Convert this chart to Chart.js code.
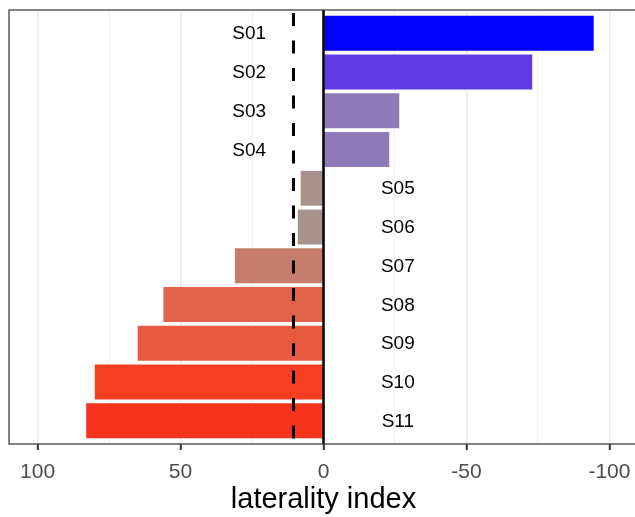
<!DOCTYPE html>
<html lang="en">
<head>
    <meta charset="UTF-8">
    <title>Laterality index</title>
    <script src="https://cdn.jsdelivr.net/npm/chart.js"></script>
    <style>
        html, body { margin: 0; padding: 0; background: #fff; overflow: hidden; }
        #chart-container { width: 645px; height: 517px; }
    </style>
</head>
<body>
    <div id="chart-container"><canvas id="grafico"></canvas></div>

    <script>
        const subjects = ['S01', 'S02', 'S03', 'S04', 'S05', 'S06', 'S07', 'S08', 'S09', 'S10', 'S11'];
        const lateralityIndex = [-94.5, -73, -26.5, -23, 8, 9, 31, 56, 65, 80, 83];
        const barColors = ['#0000FF', '#5E3AE6', '#8E7AB6', '#8E7AB6', '#A8928C', '#A8928C',
                           '#C77D6B', '#E0634A', '#E85A40', '#F53E23', '#F7331E'];
        const xTicks = [100, 75, 50, 25, 0, -25, -50, -75, -100];
        const meanIndex = 10.5;   // dashed line
        const labelOffset = 26;   // where the subject names sit

        const fontFamily = '"Liberation Sans", Arial, sans-serif';
        const isMajor = v => v % 50 === 0;

        // zero line, mean line, subject names and panel border
        const extras = {
            id: 'extras',
            afterDatasetsDraw(chart) {
                const { ctx, chartArea: a, scales: { x, y } } = chart;
                ctx.save();

                const x0 = x.getPixelForValue(0);
                ctx.strokeStyle = '#000';
                ctx.lineWidth = 2.5;
                ctx.beginPath();
                ctx.moveTo(x0, a.top);
                ctx.lineTo(x0, a.bottom);
                ctx.stroke();

                const xm = x.getPixelForValue(meanIndex);
                ctx.lineWidth = 3;
                ctx.setLineDash([13, 14.5]);
                ctx.lineDashOffset = 24.5;
                ctx.beginPath();
                ctx.moveTo(xm, a.top);
                ctx.lineTo(xm, a.bottom);
                ctx.stroke();
                ctx.setLineDash([]);

                ctx.font = '19px ' + fontFamily;
                ctx.fillStyle = '#000';
                ctx.textAlign = 'center';
                ctx.textBaseline = 'middle';
                subjects.forEach((s, i) => {
                    const v = lateralityIndex[i];
                    const px = x.getPixelForValue(v < 0 ? labelOffset : -labelOffset);
                    ctx.fillText(s, px, y.getPixelForValue(i + 1) + 1);
                });

                ctx.strokeStyle = '#333333';
                ctx.lineWidth = 1.2;
                ctx.strokeRect(a.left, a.top, a.width, a.height);
                ctx.restore();
            }
        };

        new Chart(document.getElementById('grafico'), {
            type: 'bar',
            data: {
                datasets: [{
                    data: lateralityIndex.map((v, i) => ({ x: v, y: i + 1 })),
                    backgroundColor: barColors,
                    borderWidth: 0,
                    barPercentage: 0.9,
                    categoryPercentage: 1
                }]
            },
            options: {
                indexAxis: 'y',
                responsive: true,
                maintainAspectRatio: false,
                animation: false,
                layout: { padding: { left: 9, right: 7, top: 10, bottom: 0 } },
                plugins: { legend: { display: false }, tooltip: { enabled: false } },
                scales: {
                    y: {
                        type: 'linear',
                        min: 0.4,
                        max: 11.6,
                        reverse: true,
                        offset: false,
                        display: false,
                        afterBuildTicks: s => { s.ticks = subjects.map((_, i) => ({ value: i + 1 })); }
                    },
                    x: {
                        type: 'linear',
                        min: -110,
                        max: 110,
                        reverse: true,
                        afterBuildTicks: s => { s.ticks = xTicks.map(v => ({ value: v })); },
                        border: { display: false },
                        grid: {
                            color: '#EBEBEB',
                            lineWidth: c => isMajor(c.tick.value) ? 1.6 : 0.8,
                            tickLength: 6,
                            tickColor: c => isMajor(c.tick.value) ? '#333333' : 'rgba(0,0,0,0)',
                            tickWidth: 2
                        },
                        ticks: {
                            autoSkip: false,
                            maxRotation: 0,
                            padding: 10,
                            color: '#4D4D4D',
                            font: { family: fontFamily, size: 21, lineHeight: 1.2 },
                            callback: v => isMajor(v) ? String(v) : ''
                        },
                        title: {
                            display: true,
                            text: 'laterality index',
                            color: '#000',
                            font: { family: fontFamily, size: 29, lineHeight: 1.2 },
                            padding: { top: -13, bottom: 0 }
                        }
                    }
                }
            },
            plugins: [extras]
        });
    </script>
</body>
</html>
